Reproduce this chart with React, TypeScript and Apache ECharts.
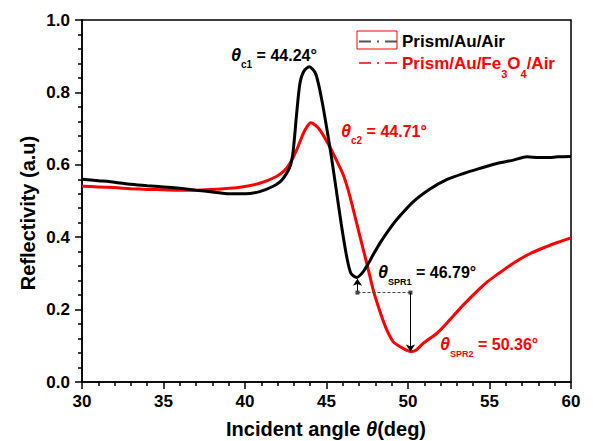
import React, { useEffect, useRef } from 'react';
import * as echarts from 'echarts';

// Prism/Au/Air (black)
const airAngle = [30.0, 31.0, 32.0, 33.0, 34.0, 35.0, 36.0, 37.0, 38.0, 39.0, 40.0, 40.9, 41.7, 42.2, 42.56, 42.8, 42.96, 43.17, 43.37, 43.6, 43.95, 44.3, 44.5, 44.75, 45.0, 45.3, 45.6, 45.9, 46.24, 46.5, 46.85, 47.26, 47.6, 47.87, 48.3, 48.7, 49.3, 50.3, 51.35, 52.37, 53.4, 54.4, 55.4, 56.46, 57.3, 58.0, 58.5, 59.2, 60.0];
const airRefl = [0.560, 0.556, 0.552, 0.546, 0.542, 0.539, 0.535, 0.530, 0.525, 0.520, 0.520, 0.526, 0.540, 0.555, 0.577, 0.600, 0.640, 0.742, 0.825, 0.858, 0.871, 0.855, 0.825, 0.770, 0.705, 0.622, 0.530, 0.438, 0.346, 0.300, 0.289, 0.305, 0.330, 0.352, 0.385, 0.412, 0.448, 0.497, 0.533, 0.559, 0.576, 0.590, 0.603, 0.613, 0.622, 0.620, 0.620, 0.622, 0.623];

// Prism/Au/Fe3O4/Air (red)
const feAngle = [30.0, 31.0, 32.0, 33.0, 34.0, 35.0, 36.0, 37.0, 38.0, 39.0, 39.7, 40.9, 41.9, 42.4, 42.76, 43.17, 43.58, 43.85, 44.03, 44.3, 44.6, 45.2, 45.8, 46.05, 46.3, 46.5, 46.65, 47.06, 47.47, 47.87, 48.28, 48.7, 49.1, 49.5, 49.9, 50.23, 50.5, 50.94, 51.76, 52.37, 53.4, 54.4, 54.9, 55.44, 56.46, 57.5, 58.5, 59.2, 60.0];
const feRefl = [0.541, 0.539, 0.537, 0.534, 0.532, 0.531, 0.530, 0.530, 0.532, 0.535, 0.538, 0.549, 0.567, 0.583, 0.604, 0.641, 0.687, 0.708, 0.716, 0.710, 0.696, 0.650, 0.595, 0.570, 0.535, 0.502, 0.475, 0.401, 0.328, 0.254, 0.195, 0.144, 0.111, 0.098, 0.088, 0.084, 0.088, 0.107, 0.134, 0.162, 0.213, 0.258, 0.278, 0.296, 0.328, 0.355, 0.374, 0.386, 0.398];

// axis ranges
const xRange = [30, 60];
const xStep = 5;
const yRange = [0, 1];
const yStep = 0.2;

// annotation values
const thetaC1 = '44.24';
const thetaC2 = '44.71';
const thetaSPR1 = '46.79';
const thetaSPR2 = '50.36';

// arrow marker geometry (data coordinates)
const spr1ArrowX = 46.9;
const spr2ArrowX = 50.15;
const arrowLevel = 0.247;
const spr1ArrowTop = 0.285;
const spr2ArrowBottom = 0.084;

const legendNames = ['Prism/Au/Air', 'Prism/Au/Fe3O4/Air'];

const FONT = '"Liberation Sans", Arial, Helvetica, sans-serif';

const zip = (a: number[], b: number[]) => a.map((v, i) => [v, b[i]]);

export default function App() {
  const ref = useRef<HTMLDivElement>(null);
  useEffect(() => {
    if (!ref.current) return;
    const chart = echarts.init(ref.current, null, { renderer: 'svg' });

    const annot = (x: number, y: number, sub: string, val: string, color: string, subSize: number) => ({
      type: 'text',
      x,
      y,
      z: 100,
      style: {
        text: `{t|θ}{s|${sub}}{n| = ${val}°}`,
        textAlign: 'left',
        verticalAlign: 'middle',
        fill: color,
        rich: {
          t: { fontFamily: FONT, fontSize: 18, fontWeight: 'bold', fontStyle: 'italic', fill: color, lineHeight: 28, verticalAlign: 'middle' },
          s: { fontFamily: FONT, fontSize: subSize, fontWeight: 'bold', fill: color, lineHeight: 10, verticalAlign: 'bottom' },
          n: { fontFamily: FONT, fontSize: 16, fontWeight: 'bold', fill: color, lineHeight: 28, verticalAlign: 'middle' },
        },
      },
    });

    const option: any = {
      animation: false,
      backgroundColor: '#fff',
      grid: { left: 82, right: 22, top: 20, bottom: 59, show: true, borderColor: '#000', borderWidth: 1.5, backgroundColor: 'transparent' },
      xAxis: {
        type: 'value',
        min: xRange[0],
        max: xRange[1],
        interval: xStep,
        axisLine: { show: true, lineStyle: { color: '#000', width: 1.5 } },
        axisTick: { show: true, inside: false, length: 7, lineStyle: { color: '#000', width: 1.5 } },
        minorTick: { show: true, splitNumber: 5, length: 4, lineStyle: { color: '#000', width: 1.5 } },
        splitLine: { show: false },
        axisLabel: { color: '#000', fontFamily: FONT, fontSize: 17, fontWeight: 'bold', margin: 11 },
      },
      yAxis: {
        type: 'value',
        min: yRange[0],
        max: yRange[1],
        interval: yStep,
        axisLine: { show: true, lineStyle: { color: '#000', width: 1.5 } },
        axisTick: { show: true, inside: false, length: 7, lineStyle: { color: '#000', width: 1.5 } },
        minorTick: { show: true, splitNumber: 5, length: 4, lineStyle: { color: '#000', width: 1.5 } },
        splitLine: { show: false },
        axisLabel: { color: '#000', fontFamily: FONT, fontSize: 17, fontWeight: 'bold', margin: 12, formatter: (v: number) => v.toFixed(1) },
      },
      series: [
        {
          name: legendNames[0],
          type: 'line',
          data: zip(airAngle, airRefl),
          symbol: 'none',
          showSymbol: false,
          smooth: 0.25,
          lineStyle: { color: '#000', width: 3 },
          itemStyle: { color: '#000' },
          z: 3,
          markLine: {
            silent: true,
            symbolSize: 7,
            label: { show: false },
            lineStyle: { color: '#000', width: 1, type: 'solid' },
            data: [
              [
                { coord: [spr1ArrowX, arrowLevel], symbol: 'none' },
                { coord: [spr1ArrowX, spr1ArrowTop], symbol: 'arrow' },
              ],
              [
                { coord: [spr1ArrowX, arrowLevel], symbol: 'rect', symbolSize: 4, lineStyle: { type: [3, 2], color: '#444', width: 1 } },
                { coord: [spr2ArrowX, arrowLevel], symbol: 'rect', symbolSize: 4 },
              ],
              [
                { coord: [spr2ArrowX, arrowLevel], symbol: 'none' },
                { coord: [spr2ArrowX, spr2ArrowBottom], symbol: 'arrow' },
              ],
            ],
          },
        },
        {
          name: legendNames[1],
          type: 'line',
          data: zip(feAngle, feRefl),
          symbol: 'none',
          showSymbol: false,
          smooth: 0.25,
          lineStyle: { color: '#ff0000', width: 3 },
          itemStyle: { color: '#ff0000' },
          z: 2,
        },
      ],
      graphic: [
        // legend
        { type: 'rect', shape: { x: 357, y: 31, width: 40, height: 18 }, style: { fill: 'none', stroke: '#ff0000', lineWidth: 1 } },
        { type: 'line', shape: { x1: 359, y1: 41.5, x2: 397, y2: 41.5 }, style: { stroke: '#555', lineWidth: 2, lineDash: [12, 6, 2, 6, 12, 0] } },
        { type: 'line', shape: { x1: 359, y1: 63, x2: 397, y2: 63 }, style: { stroke: '#ff0000', lineWidth: 1.5, lineDash: [12, 6, 2, 6, 12, 0] } },
        {
          type: 'text', x: 402, y: 41.5,
          style: { text: legendNames[0], fontFamily: FONT, fontSize: 17, fontWeight: 'bold', fill: '#000', textAlign: 'left', verticalAlign: 'middle' },
        },
        {
          type: 'text', x: 402, y: 63,
          style: {
            text: '{a|Prism/Au/Fe}{s|3}{a|O}{s|4}{a|/Air}',
            textAlign: 'left', verticalAlign: 'middle', fill: '#ff0000',
            rich: {
              a: { fontFamily: FONT, fontSize: 17, fontWeight: 'bold', fill: '#ff0000', lineHeight: 33, verticalAlign: 'middle' },
              s: { fontFamily: FONT, fontSize: 11, fontWeight: 'bold', fill: '#ff0000', lineHeight: 12, verticalAlign: 'bottom' },
            },
          },
        },
        // annotations
        annot(231, 55, 'c1', thetaC1, '#000', 10),
        annot(341, 131, 'c2', thetaC2, '#ff0000', 10),
        annot(378, 272, 'SPR1', thetaSPR1, '#000', 9),
        annot(440, 344, 'SPR2', thetaSPR2, '#ff0000', 9),
        // axis titles
        {
          type: 'text', x: 27.5, y: 213, rotation: Math.PI / 2,
          style: { text: 'Reflectivity (a.u)', fontFamily: FONT, fontSize: 20, fontWeight: 'bold', fill: '#000', textAlign: 'center', verticalAlign: 'middle' },
        },
        {
          type: 'text', x: 326, y: 429,
          style: {
            text: '{a|Incident angle }{t|θ}{a|(deg)}',
            textAlign: 'center', verticalAlign: 'middle', fill: '#000',
            rich: {
              a: { fontFamily: FONT, fontSize: 20, fontWeight: 'bold', fill: '#000' },
              t: { fontFamily: FONT, fontSize: 20, fontWeight: 'bold', fontStyle: 'italic', fill: '#000' },
            },
          },
        },
      ],
    };
    chart.setOption(option);
    return () => chart.dispose();
  }, []);
  return <div ref={ref} style={{ position: 'absolute', left: 0, top: 0, width: 593, height: 441 }} />;
}
